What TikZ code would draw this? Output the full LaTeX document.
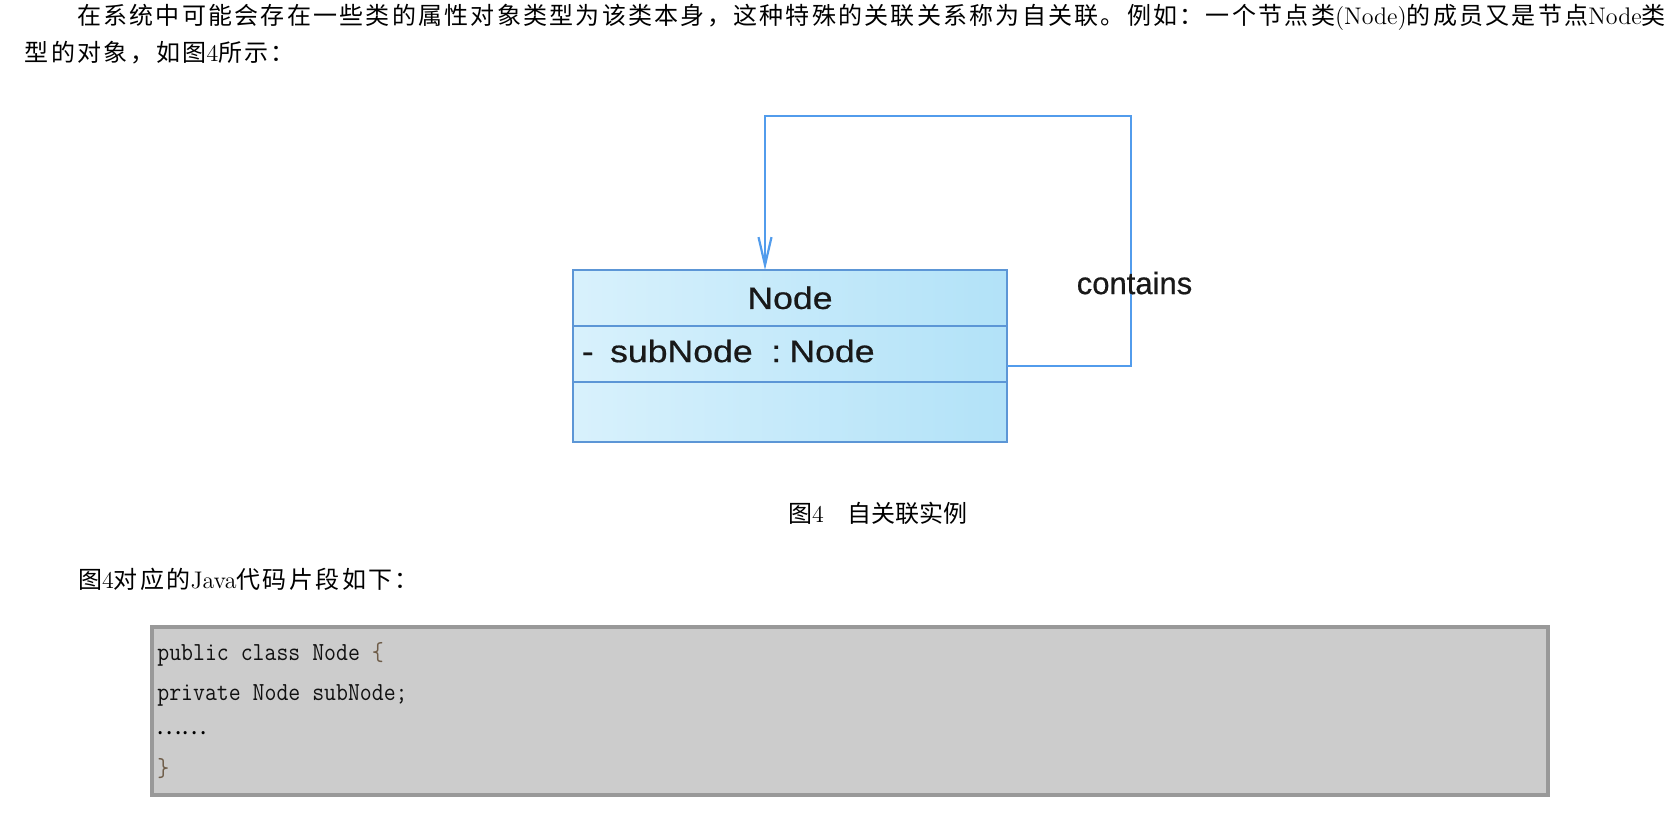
\documentclass[tikz,border=0pt]{standalone}
\usepackage{fontspec}
\usepackage{graphicx}
\newfontfamily\cjk{Noto Sans CJK SC}
\newfontfamily\cjksp[LetterSpace=10]{Noto Sans CJK SC}
\newfontfamily\cjkspa[LetterSpace=9.4]{Noto Sans CJK SC}
\newfontfamily\umlfont[FakeBold=0.6]{Liberation Sans}
\usetikzlibrary{arrows.meta}
\definecolor{umlline}{RGB}{92,150,214}
\definecolor{looplinec}{RGB}{82,156,236}
\definecolor{clsL}{RGB}{216,241,252}
\definecolor{clsR}{RGB}{178,226,248}
\definecolor{codefill}{RGB}{204,204,204}
\definecolor{codeedge}{RGB}{153,153,153}
\definecolor{bracec}{RGB}{110,92,72}
\definecolor{umltext}{RGB}{25,25,25}
\begin{document}
\begin{tikzpicture}[x=0.5pt,y=-0.5pt,
  bodytext/.style={anchor=west, inner sep=0pt, outer sep=0pt, font=\fontsize{12pt}{14pt}\selectfont},
  compart/.style={draw=umlline, line width=1pt, left color=clsL, right color=clsR, minimum width=217pt, inner sep=0pt, outer sep=0pt},
  umllabel/.style={inner sep=0pt, text=umltext, font=\umlfont\fontsize{15.5pt}{18pt}\selectfont},
  selfassoc/.style={draw=looplinec, line width=1.1pt, -{Straight Barb[length=14pt,width=6.5pt]}},
  codebox/.style={draw=codeedge, fill=codefill, line width=2pt, minimum width=698pt, minimum height=84pt, inner sep=0pt},
  codeline/.style={anchor=base west, inner sep=0pt, text={rgb,255:red,17;green,17;blue,17}, font=\ttfamily\fontsize{13pt}{15pt}\selectfont}
]
\useasboundingbox (0,0) rectangle (1674,822);

% paragraph text
\node[bodytext] (p1) at (77,17) {\cjkspa 在系统中可能会存在一些类的属性对象类型为该类本身，这种特殊的关联关系称为自关联。例如：一个节点类{\rmfamily(Node)}的成员又是节点{\rmfamily Node}类};
\node[bodytext] (p2) at (25,53) {\cjkspa 型的对象，如图{\rmfamily 4}所示：};

% class box
\node[compart, minimum height=27.85pt, font=\umlfont\fontsize{15.5pt}{18pt}\selectfont, text=umltext] (hdr) at (790,297.85) {\scalebox{1.15}[1]{Node}};
\node[compart, minimum height=28.15pt, anchor=north] (attr) at (hdr.south) {};
\node[compart, minimum height=29.85pt, anchor=north] (ops) at (attr.south) {};
\node[umllabel, anchor=west] (attrtxt) at ([xshift=4.2pt, yshift=1.4pt]attr.west) {\scalebox{1.15}[1]{-\hspace{0.46em}subNode\hspace{0.52em}:\hspace{0.23em}Node}};

% self association
\coordinate (loopcorner) at (1131,116);
\draw[selfassoc] ([yshift=-6pt]attr.east) -| (loopcorner) -| ([xshift=-12.5pt]hdr.north);
\node[umllabel] (lbl) at (1134.5,283) {contains};

% captions
\node[bodytext] (cap) at (788,513) {\cjk 图{\rmfamily 4}\hspace{12pt}自关联实例};
\node[bodytext] (p3) at (78,579) {\cjksp 图{\rmfamily 4}对应的{\rmfamily Java}代码片段如下：};

% code block
\node[codebox] (code) at (850,711) {};
\node[codeline] (c1) at (157,660) {\scalebox{0.89}[1]{public class Node {\color{bracec}\{}}};
\node[codeline] (c2) at (157,700) {\scalebox{0.89}[1]{private Node subNode;}};
\node[anchor=west, inner sep=0pt, font=\cjk\fontsize{12pt}{14pt}\selectfont] (c3) at (156,733) {……};
\node[codeline] (c4) at (157,776) {\scalebox{0.89}[1]{\color{bracec}\}}};
\end{tikzpicture}
\end{document}
